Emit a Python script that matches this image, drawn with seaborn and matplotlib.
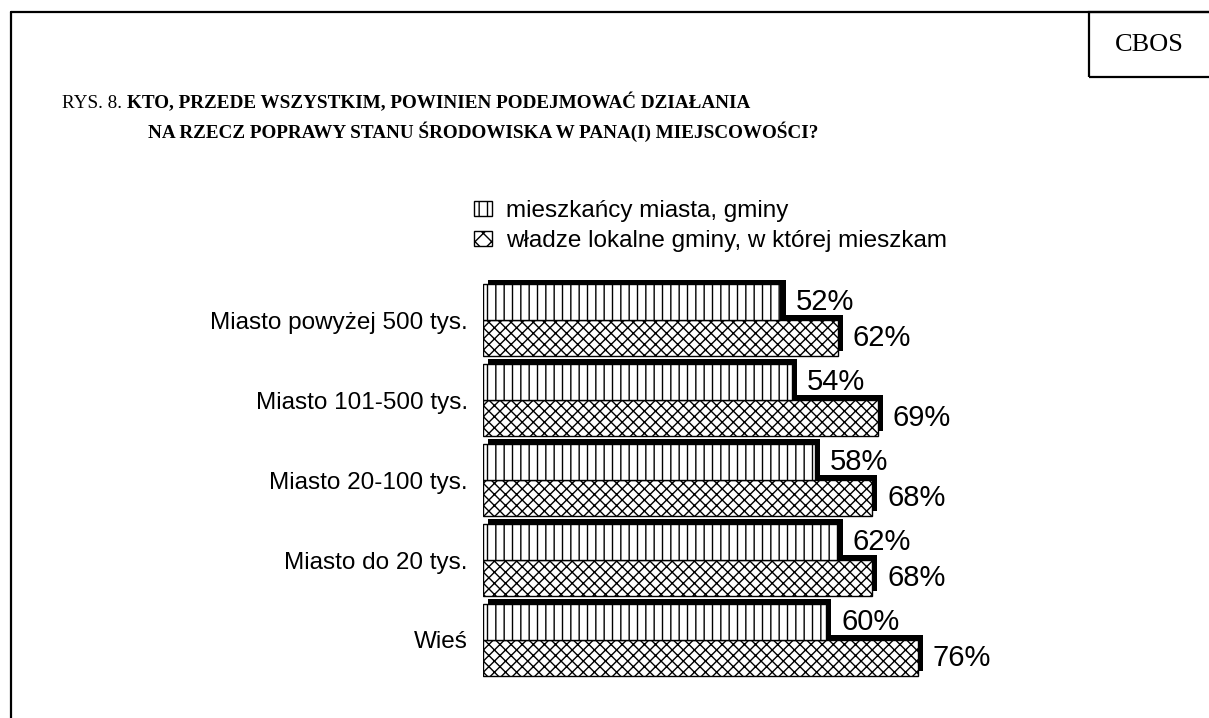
import matplotlib
matplotlib.use("Agg")
import matplotlib.pyplot as plt
import matplotlib.patheffects as pe
from matplotlib.patches import Patch, Rectangle
from matplotlib.lines import Line2D
import seaborn as sns
import pandas as pd

categories = ["Miasto powyżej 500 tys.", "Miasto 101-500 tys.", "Miasto 20-100 tys.",
              "Miasto do 20 tys.", "Wieś"]
series_names = ["mieszkańcy miasta, gminy", "władze lokalne gminy, w której mieszkam"]
residents = [52, 54, 58, 62, 60]
authorities = [62, 69, 68, 68, 76]
title_prefix = "RYS. 8."
title_line1 = "KTO, PRZEDE WSZYSTKIM, POWINIEN PODEJMOWAĆ DZIAŁANIA"
title_line2 = "NA RZECZ POPRAWY STANU ŚRODOWISKA W PANA(I) MIEJSCOWOŚCI?"
corner_label = "CBOS"

df = pd.DataFrame({
    "category": categories * 2,
    "value": residents + authorities,
    "series": [series_names[0]] * len(categories) + [series_names[1]] * len(categories),
})

sns.set_style("white")
plt.rcParams["hatch.linewidth"] = 1.0
plt.rcParams["font.family"] = ["Liberation Sans", "DejaVu Sans"]
plt.rcParams["text.color"] = "black"
plt.rcParams["ytick.color"] = "black"
plt.rcParams["ytick.labelcolor"] = "black"

W, H = 1209, 718
fig = plt.figure(figsize=(W / 100, H / 100), dpi=100)

def fx(px):
    return px / W

def fy(py):
    return 1 - py / H

ax = fig.add_axes([fx(483), fy(680), fx(1060) - fx(483), (680 - 280) / H])
sns.barplot(data=df, x="value", y="category", hue="series", orient="h",
            order=categories, hue_order=series_names, width=0.9,
            color="white", edgecolor="black", linewidth=1.0,
            legend=False, ax=ax)

hatches = ["||", "xxx"]
zorders = [3, 2]
for cont, hatch, z in zip(ax.containers, hatches, zorders):
    for bar in cont:
        bar.set_facecolor("white")
        bar.set_edgecolor("black")
        bar.set_hatch(hatch)
        bar.set_zorder(z)
        bar.set_path_effects([pe.SimplePatchShadow(offset=(3.8, 3.8), shadow_rgbFace="black", alpha=1.0),
                              pe.Normal()])
    labels = ax.bar_label(cont, fmt="%d%%", padding=11, fontsize=21, color="black")
    for t in labels:
        t.set_zorder(5)

ax.set_xlim(0, 100.9)
ax.set_ylim(4.5, -0.5)
ax.set_xlabel("")
ax.set_ylabel("")
ax.set_xticks([])
ax.tick_params(axis="y", length=0, pad=11, labelsize=17.5, labelcolor="black")
for s in ax.spines.values():
    s.set_visible(False)
ax.patch.set_alpha(0)

handles = [Patch(facecolor="white", edgecolor="black", hatch=h, linewidth=1.0) for h in ["||", "xx"]]
leg = fig.legend(handles, series_names, loc="upper left", bbox_to_anchor=(fx(474), fy(200)),
                 frameon=False, fontsize=17.5, handlelength=0.75, handleheight=0.55,
                 handletextpad=0.55, labelspacing=0.32, borderpad=0, borderaxespad=0)
for t in leg.get_texts():
    t.set_color("black")

# Title
serif = ["Liberation Serif", "DejaVu Serif"]
tsize = 13.8
t1 = fig.text(fx(62), fy(108), title_prefix + " ", fontsize=tsize, family=serif, ha="left",
              va="baseline", color="black")
fig.canvas.draw()
bb = t1.get_window_extent(fig.canvas.get_renderer())
fig.text(bb.x1 / W, fy(108), title_line1, fontsize=tsize, family=serif, weight="bold",
         ha="left", va="baseline", color="black")
fig.text(fx(148), fy(138), title_line2, fontsize=tsize, family=serif, weight="bold",
         ha="left", va="baseline", color="black")

# Frame lines
lw = 1.6
fig.add_artist(Line2D([fx(11), fx(11)], [fy(12), fy(720)], color="black", lw=lw))
fig.add_artist(Line2D([fx(11), fx(1212)], [fy(12), fy(12)], color="black", lw=lw))
fig.add_artist(Rectangle((fx(1089), fy(77)), fx(1215) - fx(1089), (77 - 12) / H,
                         transform=fig.transFigure, fill=False, edgecolor="black", lw=lw))
fig.text(fx(1149), fy(45), corner_label, fontsize=19, family=serif, ha="center", va="center",
         color="black")

fig.savefig("out.png", dpi=100)
